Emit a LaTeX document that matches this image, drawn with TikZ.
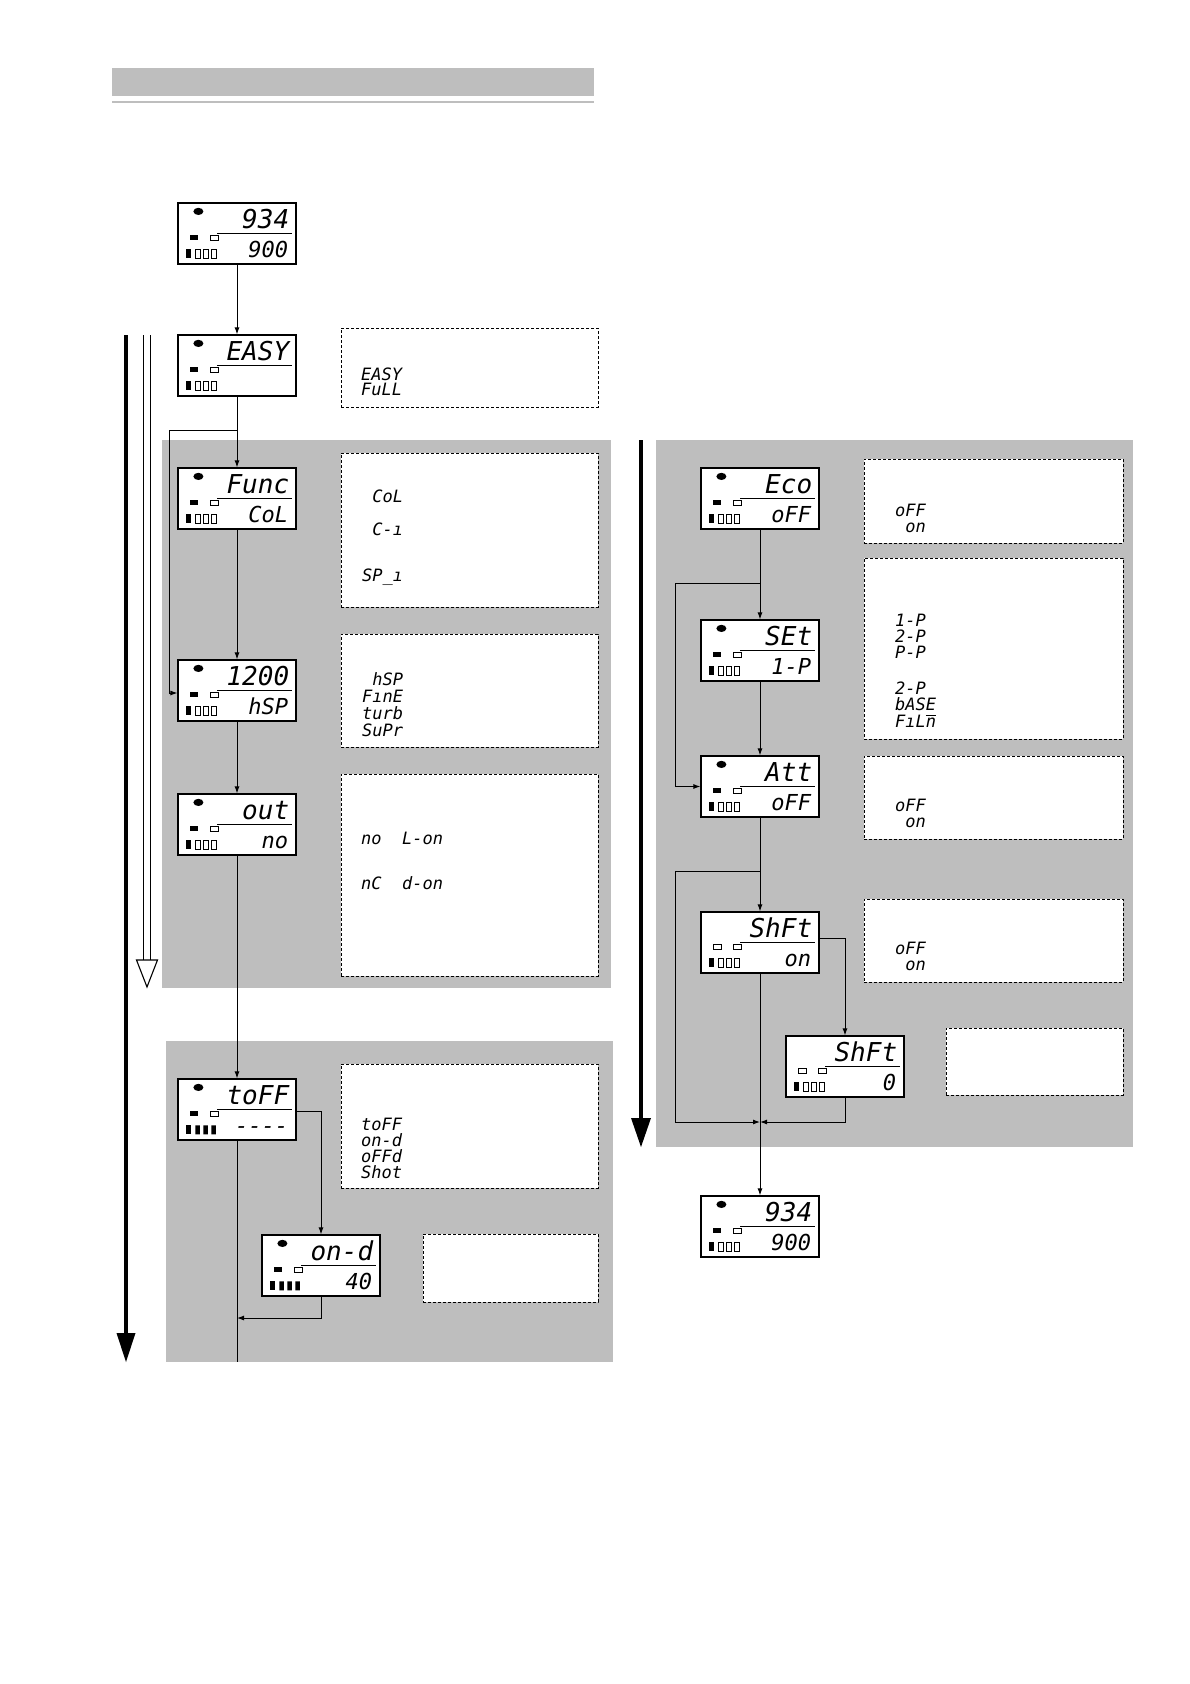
\documentclass[tikz,border=0pt]{standalone}
\usepackage{fontspec}
\newfontfamily\lcdfont{DejaVu Sans Mono}[Ligatures=TeXOff]
\usetikzlibrary{arrows.meta,calc,fit}
\definecolor{panelgray}{RGB}{190,190,190}
\newcommand\nbarglyph{\leavevmode\vbox{\hrule height 0.8pt\kern 1.6pt\hbox{n}}}
\tikzset{
  conn/.style={line width=1pt},
  arr/.style={conn,-{Latex[length=7pt,width=5pt]}},
  lcdbox/.style={draw,fill=white,line width=1.2pt,minimum width=118pt,minimum height=61pt,inner sep=0pt},
  lcdtop/.style={font=\lcdfont\itshape\fontsize{26}{26}\selectfont,inner sep=0pt},
  lcdbot/.style={font=\lcdfont\itshape\fontsize{22}{22}\selectfont,inner sep=0pt},
  infobox/.style={draw,fill=white,dash pattern=on 3pt off 2pt,line width=0.9pt,inner sep=0pt},
  infotxt/.style={font=\lcdfont\itshape\fontsize{17}{17}\selectfont,inner sep=0pt,anchor=base west},
  panel/.style={fill=panelgray,draw=none,inner sep=0pt,outer sep=0pt},
}
% name, x, y, top, bottom, dot style, first-rect style, bar style
\newcommand\lcd[8]{%
  \node[lcdbox] (#1) at (#2,#3) {};
  \begin{scope}[shift={(#1.north west)}]
    \path[#6] (21,9) ellipse [x radius=5pt, y radius=3.6pt];
    \draw[line width=0.9pt] (40,31) -- (115,31);
    \path[#7,line width=0.8pt] (13,33) rectangle (21,37.5);
    \draw[line width=0.8pt] (33,33) rectangle (41,37.5);
    \fill (9,47) rectangle (14,56);
    \path[#8,line width=0.8pt] (18,47) rectangle (22.5,56) (26,47) rectangle (30.5,56) (34,47) rectangle (38.5,56);
    \node[lcdtop,anchor=base east] (#1-t) at (112,26.5) {#4};
    \node[lcdbot,anchor=base east] (#1-b) at (111,55) {#5};
  \end{scope}}
\newcommand\itxt[4]{\node[infotxt] (#1) at (#2,#3) {#4};}
\begin{document}
\begin{tikzpicture}[x=1pt,y=-1pt]
\useasboundingbox (0,0) rectangle (1190,1684);
% header
\fill[panelgray] (112,68) rectangle (594,96);
\draw[panelgray,line width=1.2pt] (112,102) -- (594,102);
% panels
\node[panel,fit={(162,440) (611,988)}] (pL1) {};
\node[panel,fit={(166,1041) (613,1362)}] (pL2) {};
\node[panel,fit={(656,440) (1133,1147)}] (pR) {};
% big arrows
\coordinate (hA1) at (143.5,335); \coordinate (hA2) at (143.5,960);
\coordinate (hB1) at (150.5,335); \coordinate (hB2) at (150.5,960);
\draw[line width=1.1pt] (hA1) -- (hA2) (hB1) -- (hB2);
\coordinate (hT1) at (136.5,960); \coordinate (hT2) at (157.5,960); \coordinate (hT3) at (147,987);
\draw[line width=1.1pt,fill=white,line join=miter] (hT1) -- (hT2) -- (hT3) -- cycle;
\coordinate (bL1) at (126,335); \coordinate (bL2) at (126,1336);
\draw[line width=4pt] (bL1) -- (bL2);
\coordinate (bLa) at (116.5,1333); \coordinate (bLb) at (135.5,1333); \coordinate (bLc) at (126,1362);
\fill (bLa) -- (bLb) -- (bLc) -- cycle;
\coordinate (bR1) at (641,440); \coordinate (bR2) at (641,1121);
\draw[line width=4pt] (bR1) -- (bR2);
\coordinate (bRa) at (631,1118); \coordinate (bRb) at (651,1118); \coordinate (bRc) at (641,1147);
\fill (bRa) -- (bRb) -- (bRc) -- cycle;
% info boxes
\node[infobox,fit={(341,328) (598,407)}] (iEasy) {};
\node[infobox,fit={(341,453) (598,607)}] (iFunc) {};
\node[infobox,fit={(341,634) (598,747)}] (iHsp) {};
\node[infobox,fit={(341,774) (598,976)}] (iOut) {};
\node[infobox,fit={(341,1064) (598,1188)}] (iToff) {};
\node[infobox,fit={(423,1234) (598,1302)}] (iOnd) {};
\node[infobox,fit={(864,459) (1123,543)}] (iEco) {};
\node[infobox,fit={(864,558) (1123,739)}] (iSet) {};
\node[infobox,fit={(864,756) (1123,839)}] (iAtt) {};
\node[infobox,fit={(864,899) (1123,982)}] (iShft) {};
\node[infobox,fit={(946,1028) (1123,1095)}] (iShft0) {};
% info texts
\itxt{tE1}{361}{380}{EASY}
\itxt{tE2}{361}{395}{FuLL}
\itxt{tF1}{362}{502}{~CoL}
\itxt{tF2}{362}{535}{~C-ı}
\itxt{tF3}{362}{581}{SP\_ı}
\itxt{tH1}{362}{685}{~hSP}
\itxt{tH2}{362}{702}{FınE}
\itxt{tH3}{362}{719}{turb}
\itxt{tH4}{362}{736}{SuPr}
\itxt{tO1}{361}{844}{no~~L-on}
\itxt{tO2}{361}{889}{nC~~d-on}
\itxt{tT1}{361}{1130}{toFF}
\itxt{tT2}{361}{1146}{on-d}
\itxt{tT3}{361}{1162}{oFFd}
\itxt{tT4}{361}{1178}{Shot}
\itxt{tEc1}{895}{516}{oFF}
\itxt{tEc2}{895}{532}{~on}
\itxt{tS1}{895}{626}{1-P}
\itxt{tS2}{895}{642}{2-P}
\itxt{tS3}{895}{658}{P-P}
\itxt{tS4}{895}{694}{2-P}
\itxt{tS5}{895}{710}{bASE}
\itxt{tS6}{895}{727}{FıL\nbarglyph}
\itxt{tA1}{895}{811}{oFF}
\itxt{tA2}{895}{827}{~on}
\itxt{tSh1}{895}{954}{oFF}
\itxt{tSh2}{895}{970}{~on}
% displays
\lcd{d1}{237}{233.5}{934}{900}{fill}{fill}{draw}
\lcd{easy}{237}{365.5}{EASY}{}{fill}{fill}{draw}
\lcd{func}{237}{498.5}{Func}{CoL}{fill}{fill}{draw}
\lcd{hsp}{237}{690.5}{1200}{hSP}{fill}{fill}{draw}
\lcd{out}{237}{824.5}{out}{no}{fill}{fill}{draw}
\lcd{toff}{237}{1109.5}{toFF}{----}{fill}{fill}{fill}
\lcd{ond}{321}{1265.5}{on-d}{40}{fill}{fill}{fill}
\lcd{eco}{760}{498.5}{Eco}{oFF}{fill}{fill}{draw}
\lcd{set}{760}{650.5}{SEt}{1-P}{fill}{fill}{draw}
\lcd{att}{760}{786.5}{Att}{oFF}{fill}{fill}{draw}
\lcd{shft}{760}{942.5}{ShFt}{on}{draw=none}{draw}{draw}
\lcd{shftz}{845}{1066.5}{ShFt}{0}{draw=none}{draw}{draw}
\lcd{d13}{760}{1226.5}{934}{900}{fill}{fill}{draw}
% connectors left
\draw[arr] (d1.south) -- (easy.north);
\draw[arr] (easy.south) -- (func.north);
\coordinate (j1) at (237,430);
\coordinate (c1) at (169,430);
\draw[arr] (j1) -- (c1) |- ($(hsp.west)+(0,2.5)$);
\draw[arr] (func.south) -- (hsp.north);
\draw[arr] (hsp.south) -- (out.north);
\draw[arr] (out.south) -- (toff.north);
\draw[arr] ($(toff.east)+(0,1.5)$) -| (ond.north);
\coordinate (endL) at (237,1362);
\draw[conn] (toff.south) -- (endL);
\coordinate (j5) at (237,1318);
\draw[arr] (ond.south) |- (j5);
% connectors right
\draw[arr] (eco.south) -- (set.north);
\coordinate (j2) at (760,583);
\coordinate (c2) at (675,583);
\draw[arr] (j2) -- (c2) |- (att.west);
\draw[arr] (set.south) -- (att.north);
\draw[arr] (att.south) -- (shft.north);
\coordinate (j3) at (760,871);
\coordinate (c3) at (675,871);
\coordinate (j4) at (760,1122);
\draw[arr] (j3) -- (c3) |- (j4);
\draw[arr] ($(shft.east)+(0,-4.5)$) -| (shftz.north);
\draw[arr] (shftz.south) |- (j4);
\draw[arr] (shft.south) -- (d13.north);
\end{tikzpicture}
\end{document}
